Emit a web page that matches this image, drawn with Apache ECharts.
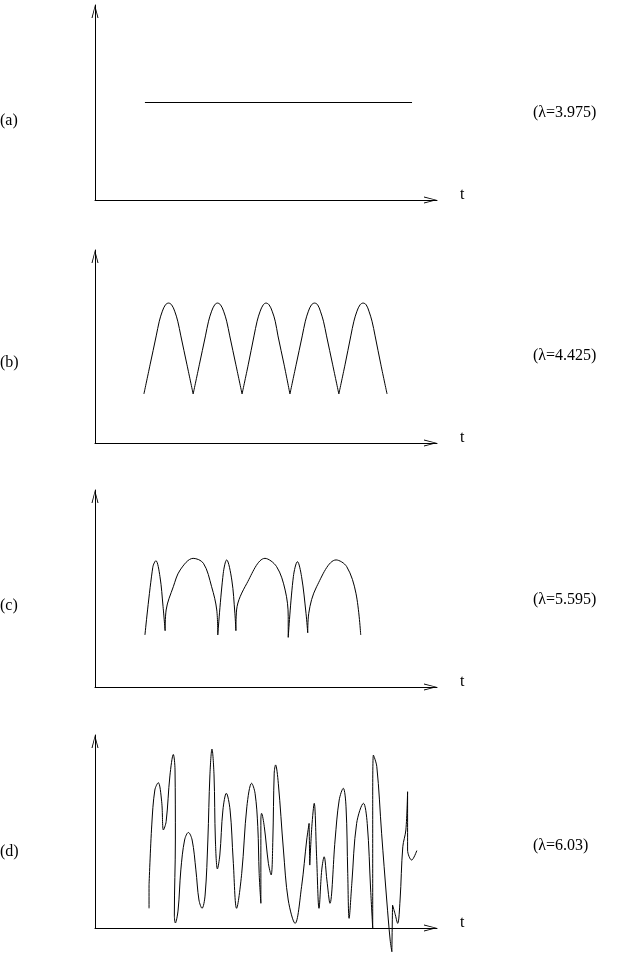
<!DOCTYPE html>
<html>
<head>
<meta charset="utf-8">
<script src="https://cdn.jsdelivr.net/npm/echarts@6/dist/echarts.min.js"></script>
<style>
html,body{margin:0;padding:0;background:#fff;}
#chart{width:632px;height:953px;}
</style>
</head>
<body>
<div id="chart"></div>
<script>
// ---- data (t, amplitude) ----
var panelLabels = ['(a)', '(b)', '(c)', '(d)'];
var lambdaLabels = ['(\u03bb=3.975)', '(\u03bb=4.425)', '(\u03bb=5.595)', '(\u03bb=6.03)'];
var axisName = 't';

var pointsA = [[1.46, 5.0], [9.27, 5.0]];
var breaksA = [];

var pointsB = [
  [1.43,2.54],[1.61,4.05],[1.79,5.55],[1.88,6.31],[1.97,6.83],[2.06,7.16],[2.15,7.25],[2.24,7.16],[2.33,6.83],[2.42,6.31],[2.51,5.55],[2.69,4.05],[2.87,2.54],
  [3.05,4.05],[3.23,5.55],[3.32,6.31],[3.41,6.83],[3.50,7.16],[3.58,7.25],[3.67,7.16],[3.76,6.83],[3.85,6.31],[3.94,5.55],[4.12,4.05],[4.30,2.54],
  [4.48,4.05],[4.65,5.55],[4.74,6.31],[4.83,6.83],[4.92,7.16],[5.00,7.25],[5.09,7.16],[5.18,6.83],[5.27,6.31],[5.35,5.55],[5.53,4.05],[5.70,2.54],
  [5.88,4.05],[6.06,5.55],[6.15,6.31],[6.24,6.83],[6.33,7.16],[6.42,7.25],[6.51,7.16],[6.59,6.83],[6.68,6.31],[6.77,5.55],[6.95,4.05],[7.13,2.54],
  [7.31,4.05],[7.48,5.55],[7.57,6.31],[7.66,6.83],[7.75,7.16],[7.84,7.25],[7.93,7.16],[8.01,6.83],[8.10,6.31],[8.19,5.55],[8.36,4.05],[8.54,2.54]
];
var breaksB = [12, 24, 36, 48];

var pointsC = [
  [1.46,2.64],[1.69,6.08],[1.78,6.41],[1.90,5.60],[1.99,4.08],[2.05,2.86],
  [2.08,3.91],[2.29,5.09],[2.49,5.94],[2.87,6.53],[3.17,6.28],[3.41,5.09],[3.56,3.91],[3.59,2.64],
  [3.75,5.77],[3.85,6.45],[4.00,5.43],[4.09,3.74],[4.12,2.86],
  [4.14,3.91],[4.44,5.26],[4.97,6.53],[5.31,6.11],[5.56,4.92],[5.65,3.57],[5.65,2.52],
  [5.80,5.60],[5.92,6.36],[6.04,5.60],[6.17,3.74],[6.22,2.75],
  [6.25,3.74],[6.48,5.09],[7.05,6.45],[7.36,6.11],[7.63,4.76],[7.77,2.64]
];
var breaksC = [5, 13, 18, 25, 30];

var pointsD = [
  [1.58,1.02],[1.58,2.23],[1.66,5.34],[1.75,7.15],[1.85,7.53],[1.95,6.54],[2.00,5.08],[2.08,5.51],
  [2.19,7.88],[2.29,8.99],[2.34,8.19],[2.35,4.56],[2.32,0.67],[2.35,0.26],[2.43,0.93],[2.51,3.01],
  [2.62,4.56],[2.73,4.95],[2.84,4.56],[2.95,3.01],[3.04,1.45],[3.13,1.02],[3.22,1.71],[3.30,4.56],
  [3.36,7.93],[3.42,9.27],[3.48,7.93],[3.52,4.56],[3.58,3.06],[3.65,3.78],[3.74,6.11],[3.84,6.98],
  [3.95,6.11],[4.04,3.52],[4.14,1.02],[4.29,2.83],[4.44,6.28],[4.58,7.50],[4.68,6.98],[4.76,5.25],
  [4.80,2.83],[4.85,1.28],[4.85,5.60],[4.87,5.94],[4.95,5.25],[5.07,3.35],[5.15,2.75],[5.20,4.56],
  [5.24,8.02],[5.28,8.45],[5.36,7.50],[5.51,4.04],[5.65,1.45],[5.85,0.24],[6.04,2.14],[6.19,4.56],
  [6.26,5.42],[6.28,3.26],[6.34,5.25],[6.41,6.46],[6.48,3.69],[6.55,1.02],[6.63,3.01],[6.70,3.69],
  [6.78,2.49],[6.87,1.28],[7.02,4.56],[7.14,6.63],[7.26,7.24],[7.34,6.28],[7.39,2.83],[7.43,0.50],
  [7.51,2.32],[7.65,5.42],[7.85,6.46],[7.96,5.42],[8.06,1.97],[8.12,0.00],[8.12,6.28],[8.14,8.96],
  [8.24,8.36],[8.38,4.91],[8.53,1.45],[8.63,-0.62],[8.68,-1.23],[8.70,1.19],[8.77,0.76],[8.85,0.24],
  [8.92,1.45],[9.00,4.21],[9.09,5.08],[9.14,7.06],[9.14,4.04],[9.26,3.52],[9.41,4.01]
];
var breaksD = [1, 41, 56, 57, 77, 84, 85, 91];

// ---- layout ----
var panelTops = [5, 250, 490, 735];
var panelBottoms = [200, 443, 687, 928];
var gridLeft = 95, gridRight = 437;
var panelLabelY = [121, 363, 606, 852];
var lambdaLabelY = [113, 356, 600, 846];

var FONT = '"Liberation Serif", "Times New Roman", serif';
var arrowPath = 'path://M3.5,0 L7,13 L6,13 L3.5,2.6 L1,13 L0,13 Z';

var panels = [
  {pts: pointsA, br: breaksA, smooth: false},
  {pts: pointsB, br: breaksB, smooth: 0.35},
  {pts: pointsC, br: breaksC, smooth: 0.35},
  {pts: pointsD, br: breaksD, smooth: 0.35}
];

function splitAt(pts, br) {
  var segs = [], start = 0;
  br.forEach(function (b) { segs.push(pts.slice(start, b + 1)); start = b; });
  segs.push(pts.slice(start));
  return segs.filter(function (s) { return s.length > 1; });
}

var grids = [], xAxes = [], yAxes = [], series = [], titles = [];
panels.forEach(function (p, i) {
  grids.push({left: gridLeft, top: panelTops[i], width: gridRight - gridLeft, height: panelBottoms[i] - panelTops[i], containLabel: false});
  var axLine = {show: true, onZero: false, symbol: ['none', arrowPath], symbolSize: [7, 13], symbolOffset: [0, -6.5], lineStyle: {color: '#000', width: 1}};
  xAxes.push({type: 'value', gridIndex: i, min: 0, max: 10, axisLine: axLine, axisTick: {show: false}, axisLabel: {show: false}, splitLine: {show: false},
    name: axisName, nameLocation: 'end', nameGap: 23,
    nameTextStyle: {fontFamily: FONT, fontSize: 16, color: '#000', verticalAlign: 'bottom', lineHeight: 10}});
  yAxes.push({type: 'value', gridIndex: i, min: 0, max: 10, axisLine: axLine, axisTick: {show: false}, axisLabel: {show: false}, splitLine: {show: false}});
  splitAt(p.pts, p.br).forEach(function (seg) {
    series.push({type: 'line', xAxisIndex: i, yAxisIndex: i, data: seg, smooth: p.smooth, showSymbol: false, symbol: 'none',
      clip: false, silent: true, lineStyle: {color: '#000', width: 1}});
  });
  titles.push({text: panelLabels[i], left: 0, top: panelLabelY[i] - 8, padding: 0,
    textStyle: {fontFamily: FONT, fontSize: 16, fontWeight: 'normal', color: '#000'}});
  titles.push({text: lambdaLabels[i], left: 533, top: lambdaLabelY[i] - 8, padding: 0,
    textStyle: {fontFamily: FONT, fontSize: 16, fontWeight: 'normal', color: '#000'}});
});

var chart = echarts.init(document.getElementById('chart'), null, {renderer: 'canvas'});
chart.setOption({
  animation: false,
  backgroundColor: '#fff',
  title: titles,
  grid: grids,
  xAxis: xAxes,
  yAxis: yAxes,
  series: series
});
</script>
</body>
</html>
